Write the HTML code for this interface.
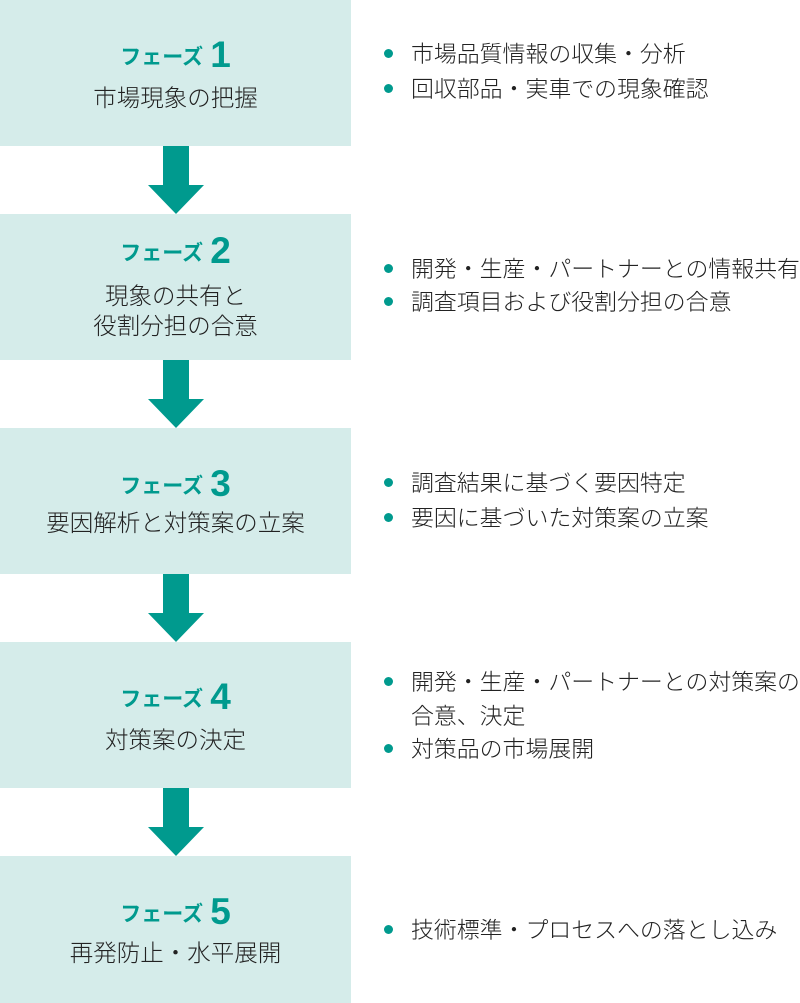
<!DOCTYPE html>
<html><head><meta charset="utf-8"><style>
body{margin:0;width:800px;height:1003px;background:#fff;position:relative;font-family:"Liberation Sans","Noto Sans CJK JP",sans-serif;color:#222;overflow:hidden}
.box{position:absolute;left:0;width:351px;height:146px;background:#d5ecea}
.t{position:absolute;left:0;width:351px;text-align:center;white-space:nowrap}
.ph{color:#009a8e;font-size:21px;font-weight:bold;line-height:36px}
.ph b{font-size:37px;margin-left:7px;vertical-align:-3px}
.d{font-size:23.5px;line-height:32px;font-weight:300}
.r{position:absolute;left:382px;font-size:22.9px;line-height:35px;white-space:nowrap;font-weight:300}
.r span{display:inline-block;width:9px;height:9px;border-radius:50%;background:#009a8e;margin:0 18px 4px 2px;vertical-align:middle}
.r i{display:inline-block;width:29px}
.arr{position:absolute;left:148px;width:56px;height:68px}
</style></head><body>
<div class="box" style="top:0"></div>
<div class="box" style="top:214px"></div>
<div class="box" style="top:428px"></div>
<div class="box" style="top:642px"></div>
<div class="box" style="top:856px;height:147px"></div>

<svg class="arr" style="top:146px" viewBox="0 0 56 68"><path d="M15 0H41V39H56L28 68L0 39H15Z" fill="#009a8e"/></svg>
<svg class="arr" style="top:360px" viewBox="0 0 56 68"><path d="M15 0H41V39H56L28 68L0 39H15Z" fill="#009a8e"/></svg>
<svg class="arr" style="top:574px" viewBox="0 0 56 68"><path d="M15 0H41V39H56L28 68L0 39H15Z" fill="#009a8e"/></svg>
<svg class="arr" style="top:788px" viewBox="0 0 56 68"><path d="M15 0H41V39H56L28 68L0 39H15Z" fill="#009a8e"/></svg>

<div class="t ph" style="top:37px">フェーズ<b>1</b></div>
<div class="t d" style="top:82px">市場現象の把握</div>
<div class="t ph" style="top:233px">フェーズ<b>2</b></div>
<div class="t d" style="top:281px;line-height:30px">現象の共有と<br>役割分担の合意</div>
<div class="t ph" style="top:466px">フェーズ<b>3</b></div>
<div class="t d" style="top:507px">要因解析と対策案の立案</div>
<div class="t ph" style="top:679px">フェーズ<b>4</b></div>
<div class="t d" style="top:724px">対策案の決定</div>
<div class="t ph" style="top:894px">フェーズ<b>5</b></div>
<div class="t d" style="top:937px">再発防止・水平展開</div>

<div class="r" style="top:37px"><span></span>市場品質情報の収集・分析<br><span></span>回収部品・実車での現象確認</div>
<div class="r" style="top:253px;line-height:33px"><span></span>開発・生産・パートナーとの情報共有<br><span></span>調査項目および役割分担の合意</div>
<div class="r" style="top:466px"><span></span>調査結果に基づく要因特定<br><span></span>要因に基づいた対策案の立案</div>
<div class="r" style="top:666px;line-height:33.5px"><span></span>開発・生産・パートナーとの対策案の<br><i></i>合意、決定<br><span></span>対策品の市場展開</div>
<div class="r" style="top:913px;line-height:34px"><span></span>技術標準・プロセスへの落とし込み</div>
</body></html>
